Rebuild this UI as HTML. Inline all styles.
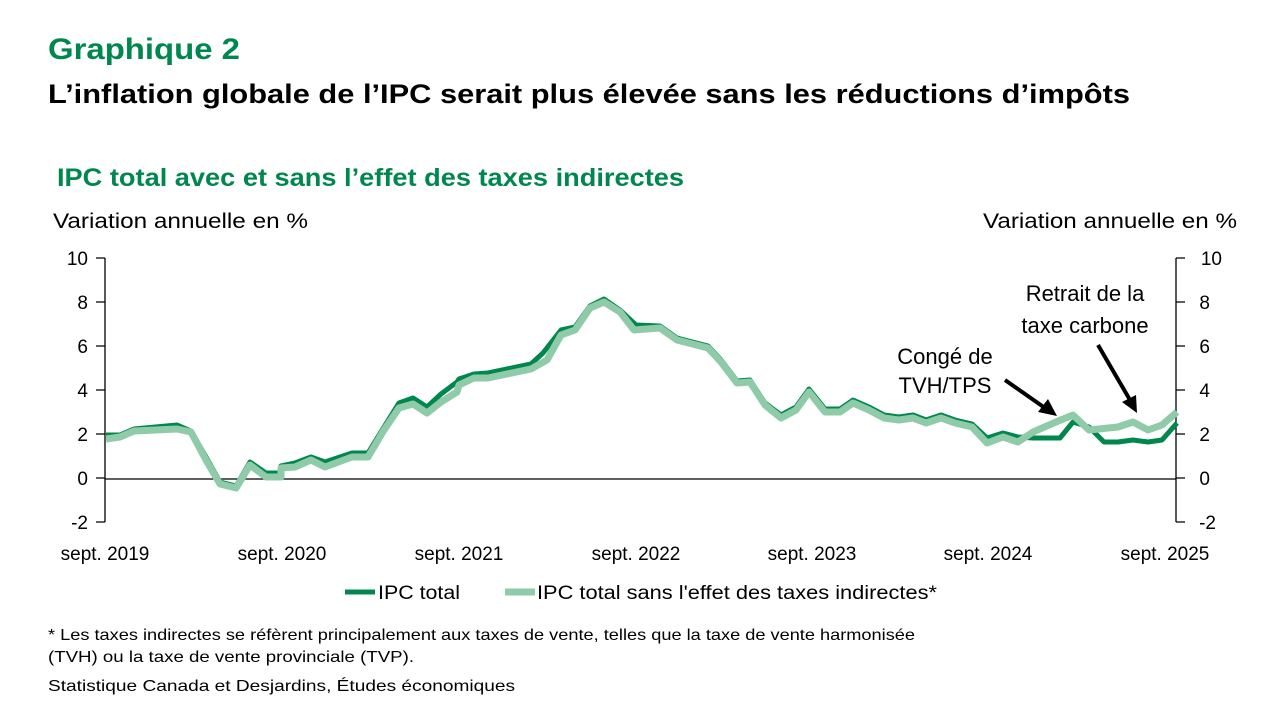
<!DOCTYPE html>
<html><head><meta charset="utf-8"><style>
body{margin:0;background:#fff;}
svg{display:block;font-family:"Liberation Sans",Carlito,sans-serif;}
</style></head><body>
<svg width="1280" height="720" viewBox="0 0 1280 720" xmlns="http://www.w3.org/2000/svg">
<text x="48" y="59" font-size="30" font-weight="bold" fill="#00874D" textLength="192" lengthAdjust="spacingAndGlyphs">Graphique 2</text>
<text x="48" y="103" font-size="27" font-weight="bold" fill="#000" textLength="1082" lengthAdjust="spacingAndGlyphs">L’inflation globale de l’IPC serait plus élevée sans les réductions d’impôts</text>
<text x="57" y="186" font-size="25" font-weight="bold" fill="#00874D" textLength="627" lengthAdjust="spacingAndGlyphs">IPC total avec et sans l’effet des taxes indirectes</text>
<text x="53" y="228" font-size="21" fill="#000" textLength="255" lengthAdjust="spacingAndGlyphs">Variation annuelle en %</text>
<text x="983" y="228" font-size="21" fill="#000" textLength="254" lengthAdjust="spacingAndGlyphs">Variation annuelle en %</text>
<g stroke="#000" stroke-width="1.3" fill="none">
<line x1="105" y1="258" x2="105" y2="522"/>
<line x1="1176" y1="258" x2="1176" y2="522"/>
<line x1="105" y1="479" x2="1176" y2="479"/>
<path d="M96 258H105M96 302H105M96 346H105M96 390H105M96 434H105M96 478H105M96 522H105"/>
<path d="M1176 258H1185M1176 302H1185M1176 346H1185M1176 390H1185M1176 434H1185M1176 478H1185M1176 522H1185"/>
</g>
<g font-size="19" fill="#000" text-anchor="end">
<text x="88" y="265">10</text><text x="88" y="309">8</text><text x="88" y="353">6</text><text x="88" y="397">4</text><text x="88" y="441">2</text><text x="88" y="485">0</text><text x="88" y="529">-2</text>
</g>
<g font-size="19" fill="#000" text-anchor="end">
<text x="1222" y="265">10</text><text x="1210" y="309">8</text><text x="1210" y="353">6</text><text x="1210" y="397">4</text><text x="1210" y="441">2</text><text x="1210" y="485">0</text><text x="1216" y="529">-2</text>
</g>
<g font-size="19" fill="#000" text-anchor="middle">
<text x="105" y="560">sept. 2019</text><text x="282" y="560">sept. 2020</text><text x="459" y="560">sept. 2021</text><text x="636" y="560">sept. 2022</text><text x="812" y="560">sept. 2023</text><text x="988" y="560">sept. 2024</text><text x="1165" y="560">sept. 2025</text>
</g>
<polyline fill="none" stroke="#00874D" stroke-width="5" stroke-linejoin="round" points="106,435 120,435 134,429 177,425 191,431 206,457 220,482 236,486 250,462 266,473 281,473 281,466 295,463 311,457 325,462 352,453 368,453 384,427 399,403 413,398 427,407 441,394 457,382 459,379 474,374 488,373 531,364 543,353 561,330 575,327 590,306 604,299 620,310 636,325 660,326 677,338 708,346 721,360 737,381 750,380 765,403 781,415 796,407 809,389 825,409 840,409 853,400 869,407 884,415 899,417 913,415 926,420 941,415 955,420 972,424 987,438 1003,433 1018,437 1033,438 1060,438 1073,422 1089,427 1104,442 1118,442 1133,440 1148,442 1162,440 1177,423"/>
<polyline fill="none" stroke="#8FCBA8" stroke-width="7" stroke-linejoin="round" points="106,439 120,437 134,431 177,429 191,432 206,460 220,484 236,488 250,465 266,477 281,477 281,468 295,467 311,460 325,467 352,457 368,457 384,430 399,408 413,404 427,413 441,402 457,392 459,385 474,378 488,378 531,369 547,360 561,335 575,330 590,308 604,302 620,312 634,330 660,328 677,340 708,348 721,362 737,383 750,382 765,405 781,418 796,410 809,392 825,412 840,412 853,403 869,410 884,418 899,420 913,418 926,423 941,418 955,423 972,427 987,443 1003,437 1018,442 1033,432 1056,422 1073,415 1089,430 1118,427 1133,422 1148,430 1162,425 1177,412"/>
<g font-size="22" fill="#000" text-anchor="middle">
<text x="945" y="364">Congé de</text><text x="945" y="393">TVH/TPS</text>
<text x="1085" y="301">Retrait de la</text><text x="1085" y="333">taxe carbone</text>
</g>
<g stroke="#000" stroke-width="4" fill="#000">
<line x1="1005" y1="380" x2="1045" y2="408"/>
<polygon points="1057,416 1038,412 1048,399" stroke="none"/>
<line x1="1098" y1="345" x2="1130" y2="400"/>
<polygon points="1137,413 1122,402 1136,395" stroke="none"/>
</g>
<line x1="345" y1="592" x2="375" y2="592" stroke="#00874D" stroke-width="5"/>
<text x="378" y="599" font-size="19" fill="#000" textLength="82" lengthAdjust="spacingAndGlyphs">IPC total</text>
<line x1="505" y1="592" x2="535" y2="592" stroke="#8FCBA8" stroke-width="7"/>
<text x="537" y="599" font-size="19" fill="#000" textLength="400" lengthAdjust="spacingAndGlyphs">IPC total sans l'effet des taxes indirectes*</text>
<g font-size="16" fill="#000">
<text x="48" y="640" textLength="867" lengthAdjust="spacingAndGlyphs">* Les taxes indirectes se réfèrent principalement aux taxes de vente, telles que la taxe de vente harmonisée</text>
<text x="48" y="662" textLength="366" lengthAdjust="spacingAndGlyphs">(TVH) ou la taxe de vente provinciale (TVP).</text>
<text x="48" y="691" textLength="467" lengthAdjust="spacingAndGlyphs">Statistique Canada et Desjardins, Études économiques</text>
</g>
</svg>
</body></html>
